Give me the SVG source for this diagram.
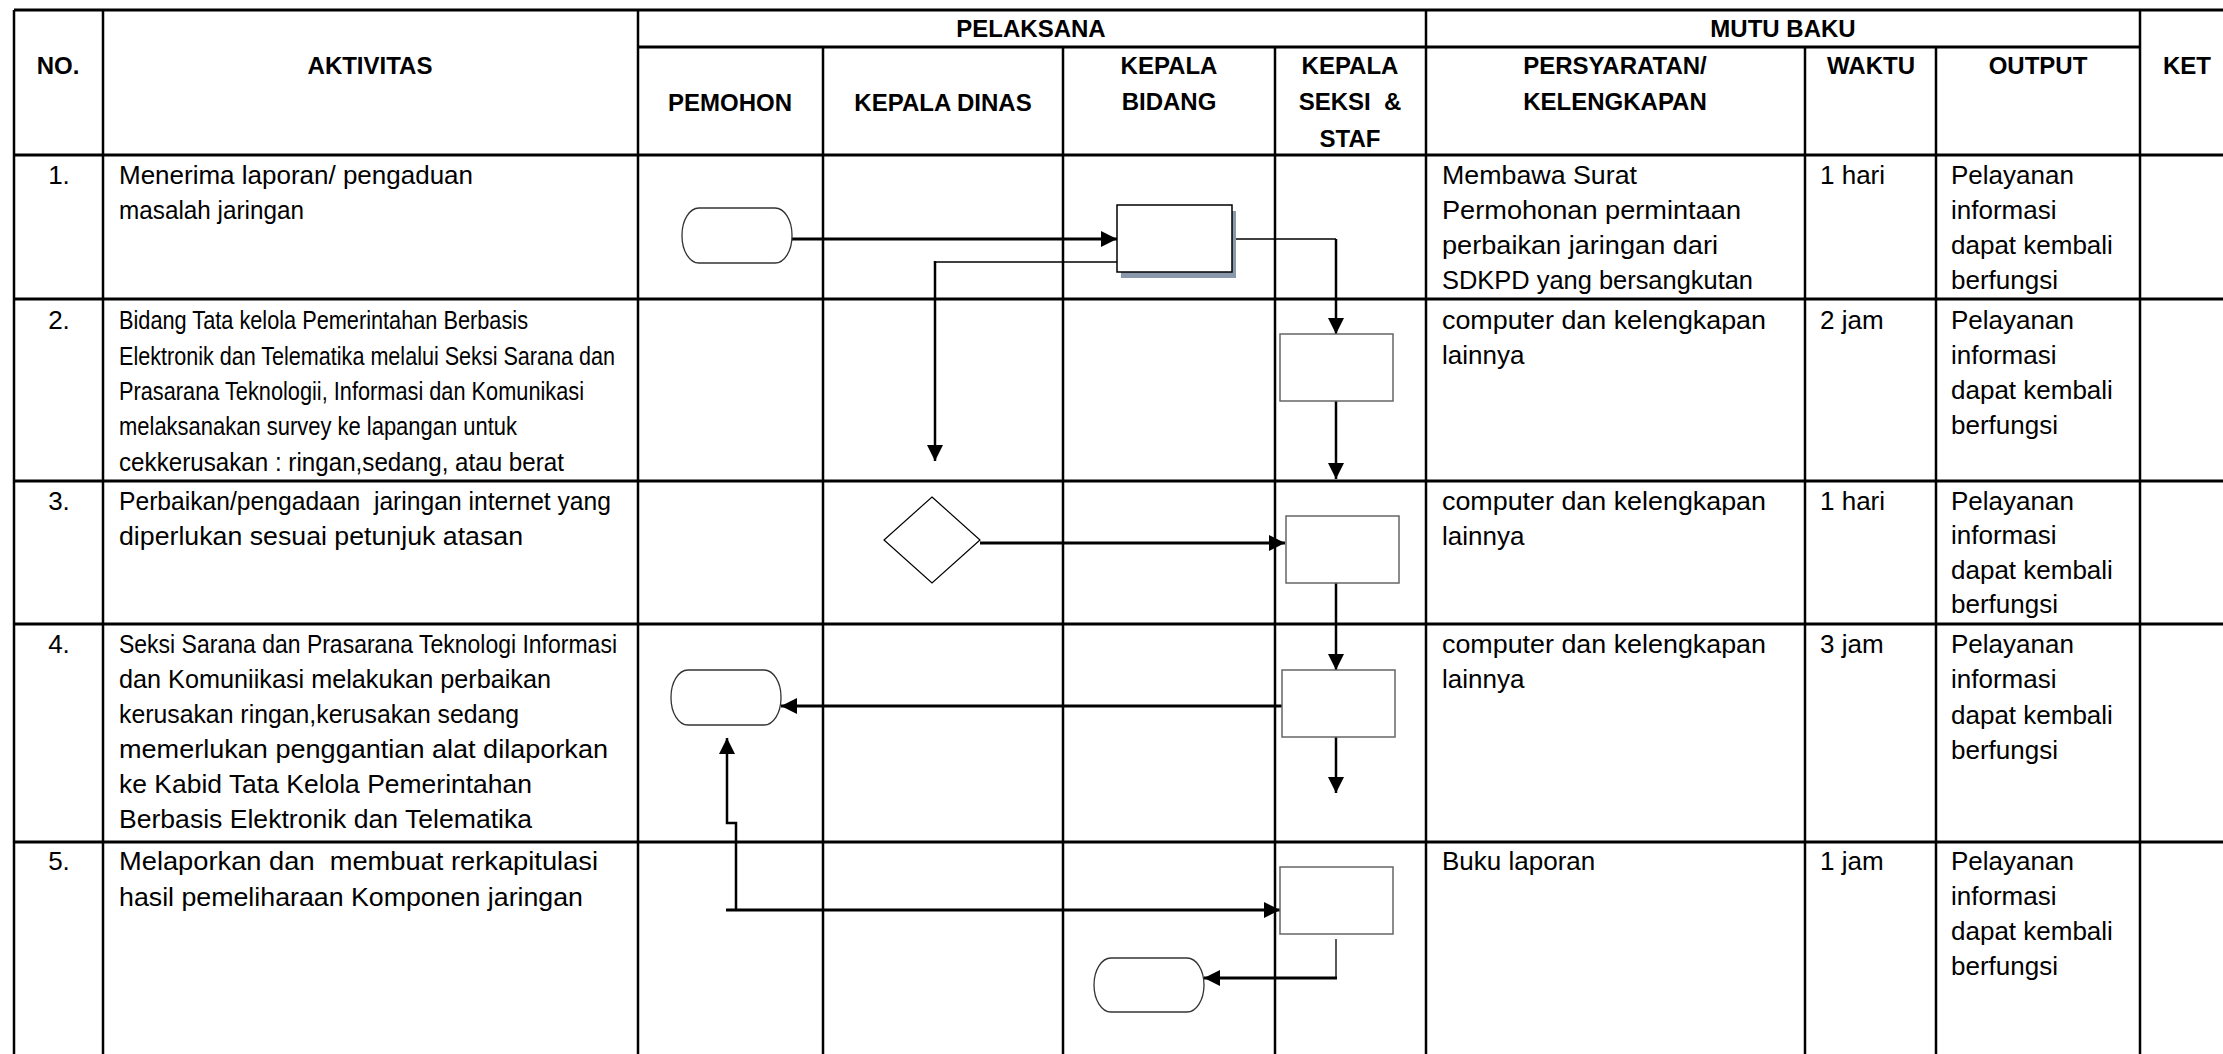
<svg xmlns="http://www.w3.org/2000/svg" width="2223" height="1054" viewBox="0 0 2223 1054">
<style>
.g{stroke:#000;stroke-width:2.5;fill:none}
.h{stroke:#000;stroke-width:3;fill:none}
.hd{font-family:"Liberation Sans",Arial,sans-serif;font-weight:bold;font-size:24px;fill:#000;text-anchor:middle}
.tx{font-family:"Liberation Sans",Arial,sans-serif;font-size:26px;fill:#000}
.nm{font-family:"Liberation Sans",Arial,sans-serif;font-size:26px;fill:#000;text-anchor:middle}
.term{fill:#fff;stroke:#333;stroke-width:1.3}
.box{fill:#fff;stroke:#666;stroke-width:1.5}
.c{fill:none;stroke:#000}
</style>
<defs>
<marker id="ah" markerUnits="userSpaceOnUse" markerWidth="16" markerHeight="16" refX="15" refY="7.5" orient="auto" viewBox="0 0 15 15">
<path d="M0,0 L15,7.5 L0,15 z" fill="#000"/>
</marker>
</defs>
<rect width="2223" height="1054" fill="#fff"/>
<g id="table">
<line class="h" x1="14" y1="10" x2="2223" y2="10"/>
<line class="h" x1="638" y1="47" x2="2140" y2="47"/>
<line class="h" x1="14" y1="155" x2="2223" y2="155"/>
<line class="h" x1="14" y1="299" x2="2223" y2="299"/>
<line class="h" x1="14" y1="481" x2="2223" y2="481"/>
<line class="h" x1="14" y1="624" x2="2223" y2="624"/>
<line class="h" x1="14" y1="842" x2="2223" y2="842"/>
<line class="g" x1="14" y1="10" x2="14" y2="1054"/>
<line class="g" x1="103" y1="10" x2="103" y2="1054"/>
<line class="g" x1="638" y1="10" x2="638" y2="1054"/>
<line class="g" x1="823" y1="47" x2="823" y2="1054"/>
<line class="g" x1="1063" y1="47" x2="1063" y2="1054"/>
<line class="g" x1="1275" y1="47" x2="1275" y2="1054"/>
<line class="g" x1="1426" y1="10" x2="1426" y2="1054"/>
<line class="g" x1="1805" y1="47" x2="1805" y2="1054"/>
<line class="g" x1="1936" y1="47" x2="1936" y2="1054"/>
<line class="g" x1="2140" y1="10" x2="2140" y2="1054"/>
</g>
<g id="header">
<text class="hd" x="58" y="74">NO.</text>
<text class="hd" x="370" y="74">AKTIVITAS</text>
<text class="hd" x="1031" y="37">PELAKSANA</text>
<text class="hd" x="1783" y="37">MUTU BAKU</text>
<text class="hd" x="730" y="111">PEMOHON</text>
<text class="hd" x="943" y="111">KEPALA DINAS</text>
<text class="hd" x="1169" y="74">KEPALA</text>
<text class="hd" x="1169" y="110">BIDANG</text>
<text class="hd" x="1350" y="74">KEPALA</text>
<text class="hd" x="1350" y="110" xml:space="preserve">SEKSI  &amp;</text>
<text class="hd" x="1350" y="147">STAF</text>
<text class="hd" x="1615" y="74">PERSYARATAN/</text>
<text class="hd" x="1615" y="110">KELENGKAPAN</text>
<text class="hd" x="1871" y="74">WAKTU</text>
<text class="hd" x="2038" y="74">OUTPUT</text>
<text class="hd" x="2187" y="74">KET</text>
</g>
<g id="rows-text">
<text class="nm" x="59" y="184">1.</text>
<text class="nm" x="59" y="329">2.</text>
<text class="nm" x="59" y="510">3.</text>
<text class="nm" x="59" y="653">4.</text>
<text class="nm" x="59" y="870">5.</text>
<text class="tx" x="119" y="184" textLength="354" lengthAdjust="spacingAndGlyphs">Menerima laporan/ pengaduan</text>
<text class="tx" x="119" y="219" textLength="185" lengthAdjust="spacingAndGlyphs">masalah jaringan</text>
<text class="tx" x="119" y="329" textLength="409" lengthAdjust="spacingAndGlyphs">Bidang Tata kelola Pemerintahan Berbasis</text>
<text class="tx" x="119" y="365" textLength="496" lengthAdjust="spacingAndGlyphs">Elektronik dan Telematika melalui Seksi Sarana dan</text>
<text class="tx" x="119" y="400" textLength="465" lengthAdjust="spacingAndGlyphs">Prasarana Teknologii, Informasi dan Komunikasi</text>
<text class="tx" x="119" y="435" textLength="398" lengthAdjust="spacingAndGlyphs">melaksanakan survey ke lapangan untuk</text>
<text class="tx" x="119" y="471" textLength="445" lengthAdjust="spacingAndGlyphs">cekkerusakan : ringan,sedang, atau berat</text>
<text class="tx" x="119" y="510" textLength="492" lengthAdjust="spacingAndGlyphs" xml:space="preserve">Perbaikan/pengadaan  jaringan internet yang</text>
<text class="tx" x="119" y="545" textLength="404" lengthAdjust="spacingAndGlyphs">diperlukan sesuai petunjuk atasan</text>
<text class="tx" x="119" y="653" textLength="498" lengthAdjust="spacingAndGlyphs">Seksi Sarana dan Prasarana Teknologi Informasi</text>
<text class="tx" x="119" y="688" textLength="432" lengthAdjust="spacingAndGlyphs">dan Komuniikasi melakukan perbaikan</text>
<text class="tx" x="119" y="723" textLength="400" lengthAdjust="spacingAndGlyphs">kerusakan ringan,kerusakan sedang</text>
<text class="tx" x="119" y="758" textLength="489" lengthAdjust="spacingAndGlyphs">memerlukan penggantian alat dilaporkan</text>
<text class="tx" x="119" y="793" textLength="413" lengthAdjust="spacingAndGlyphs">ke Kabid Tata Kelola Pemerintahan</text>
<text class="tx" x="119" y="828" textLength="413" lengthAdjust="spacingAndGlyphs">Berbasis Elektronik dan Telematika</text>
<text class="tx" x="119" y="870" textLength="479" lengthAdjust="spacingAndGlyphs" xml:space="preserve">Melaporkan dan  membuat rerkapitulasi</text>
<text class="tx" x="119" y="906" textLength="464" lengthAdjust="spacingAndGlyphs">hasil pemeliharaan Komponen jaringan</text>

<text class="tx" x="1442" y="184" textLength="195" lengthAdjust="spacingAndGlyphs">Membawa Surat</text>
<text class="tx" x="1442" y="219" textLength="299" lengthAdjust="spacingAndGlyphs">Permohonan permintaan</text>
<text class="tx" x="1442" y="254" textLength="276" lengthAdjust="spacingAndGlyphs">perbaikan jaringan dari</text>
<text class="tx" x="1442" y="289" textLength="311" lengthAdjust="spacingAndGlyphs">SDKPD yang bersangkutan</text>
<text class="tx" x="1442" y="329" textLength="324" lengthAdjust="spacingAndGlyphs">computer dan kelengkapan</text>
<text class="tx" x="1442" y="364">lainnya</text>
<text class="tx" x="1442" y="510" textLength="324" lengthAdjust="spacingAndGlyphs">computer dan kelengkapan</text>
<text class="tx" x="1442" y="545">lainnya</text>
<text class="tx" x="1442" y="653" textLength="324" lengthAdjust="spacingAndGlyphs">computer dan kelengkapan</text>
<text class="tx" x="1442" y="688">lainnya</text>
<text class="tx" x="1442" y="870">Buku laporan</text>

<text class="tx" x="1820" y="184">1 hari</text>
<text class="tx" x="1820" y="329">2 jam</text>
<text class="tx" x="1820" y="510">1 hari</text>
<text class="tx" x="1820" y="653">3 jam</text>
<text class="tx" x="1820" y="870">1 jam</text>

<text class="tx" x="1951" y="184">Pelayanan</text>
<text class="tx" x="1951" y="219">informasi</text>
<text class="tx" x="1951" y="254">dapat kembali</text>
<text class="tx" x="1951" y="289">berfungsi</text>
<text class="tx" x="1951" y="329">Pelayanan</text>
<text class="tx" x="1951" y="364">informasi</text>
<text class="tx" x="1951" y="399">dapat kembali</text>
<text class="tx" x="1951" y="434">berfungsi</text>
<text class="tx" x="1951" y="510">Pelayanan</text>
<text class="tx" x="1951" y="544">informasi</text>
<text class="tx" x="1951" y="579">dapat kembali</text>
<text class="tx" x="1951" y="613">berfungsi</text>
<text class="tx" x="1951" y="653">Pelayanan</text>
<text class="tx" x="1951" y="688">informasi</text>
<text class="tx" x="1951" y="724">dapat kembali</text>
<text class="tx" x="1951" y="759">berfungsi</text>
<text class="tx" x="1951" y="870">Pelayanan</text>
<text class="tx" x="1951" y="905">informasi</text>
<text class="tx" x="1951" y="940">dapat kembali</text>
<text class="tx" x="1951" y="975">berfungsi</text>
</g>
<g id="connectors">
<path class="c" stroke-width="3" d="M792,239 H1117" marker-end="url(#ah)"/>
<path class="c" stroke-width="1.3" d="M1232,239 H1336"/>
<path class="c" stroke-width="2.5" d="M1336,239 V334" marker-end="url(#ah)"/>
<path class="c" stroke-width="1.3" stroke="#555" d="M1117,262 H935"/>
<path class="c" stroke-width="2.5" d="M935,261 V461" marker-end="url(#ah)"/>
<path class="c" stroke-width="2.5" d="M1336,401 V479" marker-end="url(#ah)"/>
<path class="c" stroke-width="3" d="M980,543 H1285" marker-end="url(#ah)"/>
<path class="c" stroke-width="2.5" d="M1336,583 V670" marker-end="url(#ah)"/>
<path class="c" stroke-width="3" d="M1289,706 H781" marker-end="url(#ah)"/>
<path class="c" stroke-width="2.5" d="M1336,737 V793" marker-end="url(#ah)"/>
<path class="c" stroke-width="3" d="M726,910 H1280" marker-end="url(#ah)"/>
<path class="c" stroke-width="2.5" d="M736,910 V823 H727 V738" marker-end="url(#ah)"/>
<path class="c" stroke-width="1.3" stroke="#444" d="M1336,939 V978"/>
<path class="c" stroke-width="3" d="M1337,978 H1204" marker-end="url(#ah)"/>
</g>
<g id="n-start">
<rect class="term" x="682" y="208" width="110" height="55" rx="17" ry="27"/>
</g>
<g id="n-bidang1">
<rect x="1121" y="211" width="115" height="67" fill="#8a98ab"/>
<rect x="1117" y="205" width="115" height="67" fill="#fff" stroke="#000" stroke-width="1.5"/>
</g>
<g id="n-seksi2">
<rect class="box" x="1280" y="334" width="113" height="67"/>
</g>
<g id="n-decision">
<polygon points="932,497 980,540 932,583 884,540" fill="#fff" stroke="#000" stroke-width="1.2"/>
</g>
<g id="n-seksi3">
<rect class="box" x="1286" y="516" width="113" height="67"/>
</g>
<g id="n-seksi4">
<rect class="box" x="1282" y="670" width="113" height="67"/>
</g>
<g id="n-pemohon4">
<rect class="term" x="671" y="670" width="110" height="55" rx="17" ry="27"/>
</g>
<g id="n-seksi5">
<rect class="box" x="1280" y="867" width="113" height="67"/>
</g>
<g id="n-end">
<rect class="term" x="1094" y="958" width="110" height="54" rx="17" ry="27"/>
</g>
</svg>
